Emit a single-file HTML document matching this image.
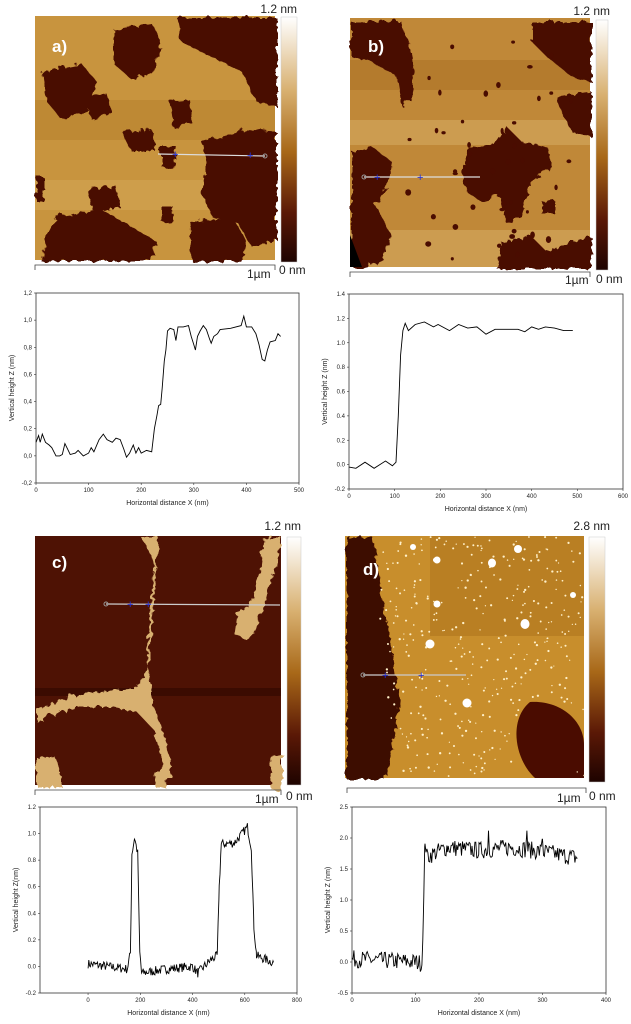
<!DOCTYPE html>
<html><head><meta charset="utf-8"><style>
body{margin:0;background:#fff;}
svg{display:block;font-family:"Liberation Sans",sans-serif;}
.t{font-size:6px;fill:#222}
.l{font-size:7px;fill:#222}
.n{font-size:12px;fill:#222}
.lab{font-size:17px;font-weight:bold;fill:#fff}
</style></head><body>
<svg id="s" width="631" height="1024" viewBox="0 0 631 1024" xmlns="http://www.w3.org/2000/svg">
<defs>
<linearGradient id="cb" x1="0" y1="0" x2="0" y2="1">
<stop offset="0" stop-color="#ffffff"/><stop offset="0.3" stop-color="#d8b070"/><stop offset="0.55" stop-color="#a86818"/><stop offset="0.8" stop-color="#5a1806"/><stop offset="1" stop-color="#1e0300"/>
</linearGradient>
<filter id="rough"><feTurbulence baseFrequency="0.09" numOctaves="2" seed="3"/><feDisplacementMap in="SourceGraphic" scale="7"/></filter>
</defs>

<!-- Image a -->
<rect x="35" y="16" width="240" height="244" fill="#c8943e"/>
<rect x="35" y="100" width="240" height="40" fill="#b8822e" opacity="0.6"/>
<rect x="35" y="180" width="240" height="30" fill="#d4a858" opacity="0.5"/>
<g fill="#4a0c00" filter="url(#rough)">
<path d="M112,28 L150,22 L160,40 L152,70 L130,78 L112,62 Z"/>
<path d="M175,16 L275,16 L275,105 L255,100 L240,70 L220,60 L200,50 L180,40 Z"/>
<path d="M40,70 L80,62 L95,80 L85,110 L60,118 L45,100 Z"/>
<path d="M82,95 L105,92 L110,110 L90,118 Z"/>
<path d="M168,100 L188,98 L190,120 L172,126 Z"/>
<path d="M120,130 L150,128 L155,150 L130,150 Z"/>
<path d="M160,145 L175,145 L172,168 L160,165 Z"/>
<path d="M200,140 L245,128 L275,130 L275,238 L250,245 L235,220 L210,215 L200,190 L205,165 Z"/>
<path d="M85,188 L115,185 L118,205 L92,210 Z"/>
<path d="M55,215 L100,208 L130,225 L155,240 L150,260 L40,260 L45,235 Z"/>
<path d="M188,220 L230,215 L245,240 L240,260 L190,260 Z"/>
<path d="M35,175 L42,175 L42,200 L35,200 Z"/>
<path d="M160,205 L172,205 L170,222 L160,220 Z"/>
</g>
<line x1="158" y1="154" x2="265" y2="156" stroke="#ddd" stroke-width="1.2"/>
<circle cx="265" cy="156" r="2" fill="none" stroke="#999"/>
<text x="172" y="158" fill="#2030e0" font-size="11">+</text><text x="247" y="159" fill="#2030e0" font-size="11">+</text>
<text x="52" y="52" class="lab">a)</text>
<rect x="281" y="17" width="16" height="245" fill="url(#cb)" stroke="#ccc" stroke-width="0.5"/>
<text x="297" y="13" class="n" text-anchor="end">1.2 nm</text>
<path d="M35,270 V265 H275 V270" fill="none" stroke="#444" stroke-width="0.8"/>
<text x="247" y="278" class="n">1µm</text><text x="279" y="274" class="n">0 nm</text>

<!-- Image b -->
<rect x="350" y="18" width="240" height="249" fill="#c08838"/>
<rect x="350" y="60" width="240" height="30" fill="#a86e22" opacity="0.5"/>
<rect x="350" y="120" width="240" height="25" fill="#d8b068" opacity="0.5"/>
<rect x="350" y="230" width="240" height="37" fill="#d8b068" opacity="0.5"/>
<g fill="#4a0c00" filter="url(#rough)">
<path d="M350,20 L400,20 L410,50 L412,95 L400,105 L395,75 L370,60 L350,55 Z"/>
<path d="M530,20 L590,20 L590,80 L570,75 L545,55 L530,40 Z"/>
<path d="M555,95 L590,90 L590,135 L570,130 L560,110 Z"/>
<path d="M465,150 L495,140 L505,125 L520,140 L545,145 L550,165 L530,180 L520,215 L505,222 L498,195 L480,200 L465,190 L460,170 Z"/>
<path d="M350,150 L370,145 L390,160 L385,185 L375,205 L390,235 L380,260 L360,267 L350,267 Z"/>
<path d="M500,240 L530,235 L545,250 L570,240 L590,235 L590,267 L495,267 Z"/>
<path d="M540,200 L552,198 L552,212 L540,212 Z"/>
</g>
<g fill="#4a0c00" id="bdots"></g>
<polygon points="350,235 362,267 350,267" fill="#000"/>
<line x1="364" y1="177" x2="480" y2="177" stroke="#ddd" stroke-width="1.2"/>
<circle cx="364" cy="177" r="2" fill="none" stroke="#999"/>
<text x="374" y="181" fill="#2030e0" font-size="11">+</text><text x="417" y="181" fill="#2030e0" font-size="11">+</text>
<text x="368" y="52" class="lab">b)</text>
<rect x="596" y="20" width="12" height="250" fill="url(#cb)" stroke="#ccc" stroke-width="0.5"/>
<text x="610" y="15" class="n" text-anchor="end">1.2 nm</text>
<path d="M350,277 V272 H590 V277" fill="none" stroke="#444" stroke-width="0.8"/>
<text x="565" y="284" class="n">1µm</text><text x="596" y="283" class="n">0 nm</text>

<!-- Image c -->
<rect x="35" y="536" width="246" height="249" fill="#4e1204"/>
<rect x="35" y="688" width="246" height="8" fill="#2e0600" opacity="0.6"/>
<g fill="#d8b070" filter="url(#rough)">
<path d="M140,536 L158,536 L153,570 L152,600 L150,635 L147,660 L140,680 L128,688 L105,690 L80,692 L55,700 L35,708 L35,720 L55,712 L80,705 L110,705 L135,710 L152,728 L160,760 L164,776 L170,776 L168,755 L160,725 L150,702 L150,690 L145,660 L148,620 L150,590 L152,560 Z"/>
<path d="M262,536 L280,536 L275,560 L265,590 L258,620 L245,638 L232,632 L235,612 L250,600 L258,570 Z"/>
<path d="M268,755 L281,752 L281,790 L270,788 Z"/>
<path d="M35,756 L52,754 L60,770 L60,785 L35,785 Z"/>
<path d="M152,770 L165,770 L166,785 L153,785 Z"/>
</g>
<line x1="106" y1="604" x2="280" y2="605" stroke="#ccc" stroke-width="1.2"/>
<circle cx="106" cy="604" r="2" fill="none" stroke="#999"/>
<text x="127" y="608" fill="#2030e0" font-size="11">+</text><text x="145" y="608" fill="#2030e0" font-size="11">+</text>
<text x="52" y="568" class="lab">c)</text>
<rect x="287" y="537" width="14" height="248" fill="url(#cb)" stroke="#ccc" stroke-width="0.5"/>
<text x="301" y="530" class="n" text-anchor="end">1.2 nm</text>
<path d="M35,795 V790 H281 V795" fill="none" stroke="#444" stroke-width="0.8"/>
<text x="255" y="803" class="n">1µm</text><text x="286" y="800" class="n">0 nm</text>

<!-- Image d -->
<rect x="345" y="536" width="239" height="242" fill="#c88e2c"/>
<rect x="430" y="536" width="154" height="100" fill="#a66c18" opacity="0.45"/>
<path d="M345,536 L372,536 L378,580 L385,620 L392,660 L398,700 L392,740 L383,778 L345,778 Z" fill="#3e0800" filter="url(#rough)"/>
<path d="M530,702 C560,700 584,720 584,745 L584,778 L535,778 C515,760 508,720 530,702 Z" fill="#4a0c00"/>
<g id="ddots"></g>
<g fill="#fff">
<ellipse cx="413" cy="547" rx="3" ry="3"/><ellipse cx="437" cy="560" rx="3.5" ry="3.5"/><ellipse cx="437" cy="604" rx="3.5" ry="3.5"/><ellipse cx="492" cy="563" rx="4" ry="4.5"/><ellipse cx="518" cy="549" rx="4" ry="4"/><ellipse cx="525" cy="624" rx="4.5" ry="5"/><ellipse cx="430" cy="644" rx="4.5" ry="4.5"/><ellipse cx="467" cy="703" rx="4.5" ry="4.5"/><ellipse cx="573" cy="595" rx="3" ry="3"/><ellipse cx="435" cy="560" rx="2" ry="2"/>
</g>
<line x1="363" y1="675" x2="466" y2="675" stroke="#ccc" stroke-width="1.2"/>
<circle cx="363" cy="675" r="2" fill="none" stroke="#999"/>
<text x="382" y="679" fill="#2030e0" font-size="11">+</text><text x="418" y="679" fill="#2030e0" font-size="11">+</text>
<text x="363" y="575" class="lab">d)</text>
<rect x="589" y="537" width="16" height="245" fill="url(#cb)" stroke="#ccc" stroke-width="0.5"/>
<text x="610" y="530" class="n" text-anchor="end">2.8 nm</text>
<path d="M347,793 V788 H586 V793" fill="none" stroke="#444" stroke-width="0.8"/>
<text x="557" y="802" class="n">1µm</text><text x="589" y="800" class="n">0 nm</text>

<g id="plots"></g>
</svg>
<script>
var NS="http://www.w3.org/2000/svg",S=document.getElementById("s");
function el(t,a,txt){var e=document.createElementNS(NS,t);for(var k in a)e.setAttribute(k,a[k]);if(txt!=null)e.textContent=txt;S.appendChild(e);return e;}
var seed=7;function rnd(){seed=(seed*16807)%2147483647;return seed/2147483647;}
function plot(o){
 var X=function(x){return o.l+(x-o.x0)/(o.x1-o.x0)*(o.r-o.l)},Y=function(v){return o.b-(v-o.y0)/(o.y1-o.y0)*(o.b-o.t)};
 el("rect",{x:o.l,y:o.t,width:o.r-o.l,height:o.b-o.t,fill:"none",stroke:"#333","stroke-width":0.8});
 o.xt.forEach(function(x){el("line",{x1:X(x),x2:X(x),y1:o.b,y2:o.b+2,stroke:"#333","stroke-width":0.6});el("text",{x:X(x),y:o.b+9,"class":"t","text-anchor":"middle"},String(x));});
 o.yt.forEach(function(v){el("line",{x1:o.l-2,x2:o.l,y1:Y(v),y2:Y(v),stroke:"#333","stroke-width":0.6});var s=v.toFixed(1);if(o.comma)s=s.replace(".",",");el("text",{x:o.l-4,y:Y(v)+2,"class":"t","text-anchor":"end"},s);});
 el("text",{x:(o.l+o.r)/2,y:o.b+22,"class":"l","text-anchor":"middle"},"Horizontal distance X (nm)");
 var cy=(o.t+o.b)/2,cx=o.l-22;
 el("text",{x:cx,y:cy,"class":"l","text-anchor":"middle",transform:"rotate(-90 "+cx+" "+cy+")"},o.yl);
 el("polyline",{points:o.d.map(function(p){return X(p[0]).toFixed(1)+","+Y(p[1]).toFixed(1)}).join(" "),fill:"none",stroke:"#000","stroke-width":0.9});
}
function noisy(pts,step,amp){var out=[];for(var i=0;i<pts.length-1;i++){var a=pts[i],b=pts[i+1];for(var x=a[0];x<b[0];x+=step){var f=(x-a[0])/(b[0]-a[0]);out.push([x,a[1]+(b[1]-a[1])*f+(rnd()-0.5)*amp]);}}out.push([pts[pts.length-1][0],pts[pts.length-1][1]]);return out;}
var da=[[0,0.1],[5,0.15],[8,0.1],[12,0.16],[18,0.1],[25,0.08],[30,0.06],[38,0],[45,0],[50,0.01],[55,0.09],[60,0.05],[65,0.01],[75,0.02],[80,0.04],[90,0],[100,0.02],[105,0.06],[110,0.03],[120,0.12],[128,0.16],[135,0.12],[145,0.1],[152,0.13],[160,0.12],[167,0.05],[172,-0.01],[178,0.02],[185,0.08],[190,0.02],[195,0.06],[200,0.02],[210,0.04],[220,0.03],[225,0.2],[230,0.3],[233,0.37],[237,0.38],[240,0.5],[244,0.7],[247,0.78],[250,0.92],[255,0.94],[262,0.93],[266,0.85],[270,0.95],[280,0.95],[290,0.96],[295,0.88],[300,0.82],[303,0.78],[307,0.88],[312,0.92],[318,0.96],[324,0.93],[330,0.86],[333,0.83],[338,0.88],[345,0.9],[350,0.93],[370,0.94],[390,0.96],[395,1.03],[400,0.95],[410,0.95],[418,0.9],[424,0.82],[430,0.71],[435,0.7],[440,0.78],[445,0.84],[455,0.85],[460,0.9],[465,0.88]];
plot({l:36,r:299,t:293,b:483,x0:0,x1:500,y0:-0.2,y1:1.2,xt:[0,100,200,300,400,500],yt:[-0.2,0,0.2,0.4,0.6,0.8,1.0,1.2],comma:true,yl:"Vertical height Z (nm)",d:da});
var db=[[0,-0.02],[15,-0.03],[35,0.02],[55,-0.03],[80,0.03],[95,-0.01],[103,0.02],[108,0.4],[113,0.9],[118,1.1],[123,1.16],[130,1.1],[145,1.15],[165,1.17],[185,1.13],[195,1.15],[220,1.1],[240,1.15],[260,1.12],[280,1.13],[300,1.07],[320,1.11],[350,1.11],[370,1.11],[385,1.09],[400,1.13],[415,1.11],[430,1.13],[450,1.12],[470,1.1],[490,1.1]];
plot({l:349,r:623,t:294,b:489,x0:0,x1:600,y0:-0.2,y1:1.4,xt:[0,100,200,300,400,500,600],yt:[-0.2,0,0.2,0.4,0.6,0.8,1.0,1.2,1.4],yl:"Vertical height Z (nm)",d:db});
var dc=noisy([[0,0.02],[150,-0.02],[162,0.1],[168,0.85],[178,0.97],[190,0.85],[198,0.1],[205,-0.05],[300,-0.02],[400,0.0],[420,-0.05],[470,0.05],[495,0.08],[502,0.6],[510,0.92],[560,0.93],[590,1.0],[610,1.05],[625,0.9],[635,0.3],[645,0.08],[710,0.03]],3,0.07);
plot({l:40,r:297,t:807,b:993,x0:-184,x1:800,y0:-0.2,y1:1.2,xt:[0,200,400,600,800],yt:[-0.2,0,0.2,0.4,0.6,0.8,1.0,1.2],yl:"Vertical height  Z(nm)",d:dc});
var dd=noisy([[0,0.05],[100,0.0],[110,-0.02],[113,1.0],[115,2.0],[118,1.7],[150,1.85],[200,1.8],[250,1.85],[300,1.78],[355,1.68]],1.5,0.28);
dd.forEach(function(p){if(Math.abs(p[0]-215)<1||Math.abs(p[0]-276)<1)p[1]=2.12;if(Math.abs(p[0]-300)<1)p[1]=1.98;});
plot({l:352,r:606,t:807,b:993,x0:0,x1:400,y0:-0.5,y1:2.5,xt:[0,100,200,300,400],yt:[-0.5,0,0.5,1.0,1.5,2.0,2.5],yl:"Vertical height  Z (nm)",d:dd});
var bd=document.getElementById("bdots");
for(var i=0;i<45;i++){var x=400+rnd()*180,y=30+rnd()*230;var c=document.createElementNS(NS,"ellipse");c.setAttribute("cx",x);c.setAttribute("cy",y);c.setAttribute("rx",1.5+rnd()*1.5);c.setAttribute("ry",1.5+rnd()*2);c.setAttribute("fill","#4a0c00");bd.appendChild(c);}
var dg=document.getElementById("ddots");
for(var i=0;i<420;i++){var x=380+rnd()*204,y=537+rnd()*240;if(x<372+(y-536)*0.1)continue;var dx=(x-548)/38,dy=(y-742)/40;if(dx*dx+dy*dy<1)continue;var c=document.createElementNS(NS,"circle");c.setAttribute("cx",x);c.setAttribute("cy",y);c.setAttribute("r",0.6+rnd()*0.6);c.setAttribute("fill","#fff0c8");dg.appendChild(c);}
</script>
</body></html>
